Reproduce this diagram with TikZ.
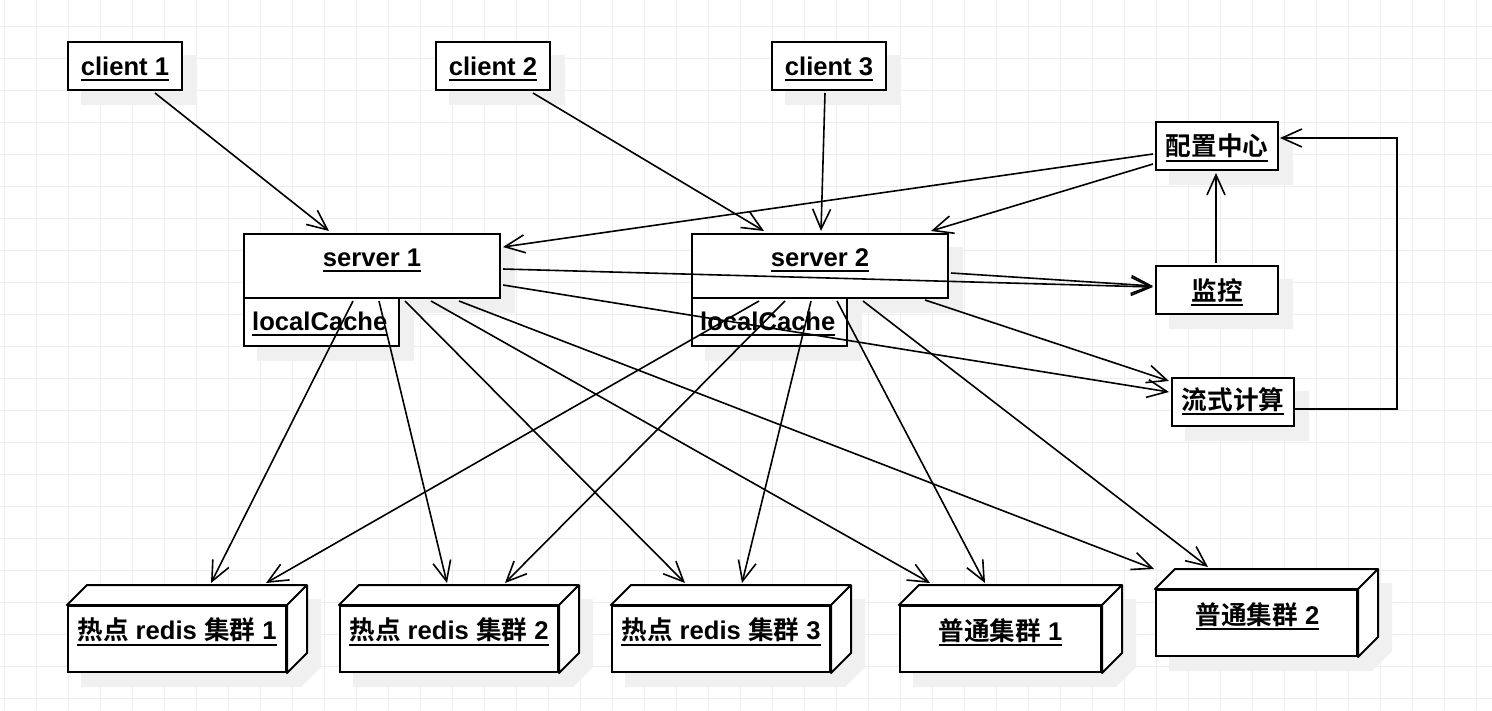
\documentclass[tikz,border=0pt]{standalone}
\usepackage{fontspec}
\setmainfont{Liberation Sans}
\newfontfamily\cjk{Noto Sans CJK SC}[BoldFont={* Bold}]
\usetikzlibrary{calc,arrows.meta}
\pgfdeclarelayer{bg}
\pgfsetlayers{bg,main}
\newcommand\ulx[1]{\setbox0\hbox{#1}\rlap{\rule[-6pt]{\wd0}{2pt}}\box0}
\newcommand\mkshadow[1]{\fill[shadowc] ($(#1.north west)+(14,14)$) rectangle ($(#1.south east)+(14,14)$);}
\newcommand\mkcubeshadow[1]{\fill[shadowc] ($(#1.south west)+(14,14)$) -- ($(#1.north west)+(14,14)$) -- ($(#1.north west)+(34,-6)$) -- ($(#1.north east)+(34,-6)$) -- ($(#1.south east)+(34,-6)$) -- ($(#1.south east)+(14,14)$) -- cycle;}
\newcommand\mkcubefaces[1]{\draw[faceline] (#1.north west) -- ($(#1.north west)+(20,-20)$) -- ($(#1.north east)+(20,-20)$) -- ($(#1.south east)+(20,-20)$) -- (#1.south east) -- (#1.north east) -- cycle (#1.north east) -- ($(#1.north east)+(20,-20)$);}
\begin{document}
\begin{tikzpicture}[x=1pt,y=-1pt,
  box/.style={draw=black, line width=2pt, fill=white, inner sep=0pt, rectangle},
  faceline/.style={draw=black, line width=2pt, fill=white, line join=round},
  lbl/.style={inner sep=0pt, font=\bfseries\fontsize{25.6pt}{30pt}\selectfont},
  conn/.style={draw=black, line width=1.6pt, -{Straight Barb[length=20pt,width=18pt]}},
  shadowc/.style={fill=black!6},
  gridc/.style={draw=black!7, line width=1pt}]
\useasboundingbox (0,0) rectangle (1492,710);
\begin{pgfonlayer}{bg}
  \fill[white] (0,0) rectangle (1492,710);
  \foreach \x in {4,36,...,1476} \draw[gridc] (\x,0) -- (\x,710);
  \foreach \y in {26,58,...,698} \draw[gridc] (0,\y) -- (1492,\y);
\end{pgfonlayer}

% clients
\node[box, minimum width=114pt, minimum height=48pt] (c1) at (125,66) {};
\node[box, minimum width=114pt, minimum height=48pt] (c2) at (493,66) {};
\node[box, minimum width=114pt, minimum height=48pt] (c3) at (829,66) {};
\node[lbl, anchor=base] (c1t) at ($(c1.center)+(0,9)$) {\ulx{client 1}};
\node[lbl, anchor=base] (c2t) at ($(c2.center)+(0,9)$) {\ulx{client 2}};
\node[lbl, anchor=base] (c3t) at ($(c3.center)+(0,9)$) {\ulx{client 3}};

% servers
\node[box, minimum width=256pt, minimum height=64pt] (s1) at (372,266) {};
\node[box, minimum width=155pt, minimum height=48pt] (s1c) at (321.5,322) {};
\node[lbl, anchor=base] (s1t) at ($(s1.north)+(0,33)$) {\ulx{server 1}};
\node[lbl, anchor=base west] (s1ct) at ($(s1c.west)+(9,8)$) {\ulx{localCache}};
\node[box, minimum width=256pt, minimum height=64pt] (s2) at (820,266) {};
\node[box, minimum width=155pt, minimum height=48pt] (s2c) at (769.5,322) {};
\node[lbl, anchor=base] (s2t) at ($(s2.north)+(0,33)$) {\ulx{server 2}};
\node[lbl, anchor=base west] (s2ct) at ($(s2c.west)+(9,8)$) {\ulx{localCache}};

% right side
\node[box, minimum width=122pt, minimum height=48pt] (pz) at (1217,146) {};
\node[box, minimum width=122pt, minimum height=48pt] (jk) at (1217,290) {};
\node[box, minimum width=122pt, minimum height=48pt] (ls) at (1233,402) {};
\node[lbl, anchor=base] (pzt) at ($(pz.center)+(0,9.5)$) {\ulx{\cjk 配置中心}};
\node[lbl, anchor=base] (jkt) at ($(jk.center)+(0,10)$) {\ulx{\cjk 监控}};
\node[lbl, anchor=base] (lst) at ($(ls.center)+(0,7)$) {\ulx{\cjk 流式计算}};

% clusters
\node[box, minimum width=218pt, minimum height=66pt] (h1) at (177,639) {};
\mkcubefaces{h1}
\node[box, minimum width=218pt, minimum height=66pt] (h2) at (449,639) {};
\mkcubefaces{h2}
\node[box, minimum width=218pt, minimum height=66pt] (h3) at (721,639) {};
\mkcubefaces{h3}
\node[box, minimum width=201pt, minimum height=66pt] (p1) at (1000.5,639) {};
\mkcubefaces{p1}
\node[box, minimum width=201pt, minimum height=66pt] (p2) at (1256.5,623) {};
\mkcubefaces{p2}
\node[lbl, anchor=base] (h1t) at ($(h1.center)+(0,0.5)$) {\ulx{{\cjk 热点} redis {\cjk 集群} 1}};
\node[lbl, anchor=base] (h2t) at ($(h2.center)+(0,0.5)$) {\ulx{{\cjk 热点} redis {\cjk 集群} 2}};
\node[lbl, anchor=base] (h3t) at ($(h3.center)+(0,0.5)$) {\ulx{{\cjk 热点} redis {\cjk 集群} 3}};
\node[lbl, anchor=base] (p1t) at ($(p1.center)+(0,1)$) {\ulx{{\cjk 普通集群} 1}};
\node[lbl, anchor=base] (p2t) at ($(p2.center)+(1,1)$) {\ulx{{\cjk 普通集群} 2}};

% shadows
\begin{pgfonlayer}{bg}
  \mkshadow{c1}\mkshadow{c2}\mkshadow{c3}
  \mkshadow{s1}\mkshadow{s1c}\mkshadow{s2}\mkshadow{s2c}
  \mkshadow{pz}\mkshadow{jk}\mkshadow{ls}
  \mkcubeshadow{h1}\mkcubeshadow{h2}\mkcubeshadow{h3}\mkcubeshadow{p1}\mkcubeshadow{p2}
\end{pgfonlayer}

% connectors
\draw[conn] ($(c1.south west)+(88,2)$) -- ($(s1.north west)+(86,-2)$);
\draw[conn] ($(c2.south west)+(98,2)$) -- ($(s2.north west)+(73,-2)$);
\draw[conn] ($(c3.south west)+(54,2)$) -- ($(s2.north west)+(130,-2)$);
\draw[conn] ($(pz.west)+(-2,8)$) -- ($(s1.north east)+(2,14)$);
\draw[conn] ($(pz.west)+(-2,18)$) -- ($(s2.north east)+(-18,-2)$);
\draw[conn] ($(jk.north)+(-1,-2)$) -- ($(pz.south)+(-1,2)$);
\draw[conn] ($(ls.east)+(0,7)$) -- ++(102,0) |- ($(pz.east)+(1,-8)$);
\draw[conn] ($(s1.north east)+(2,36)$) -- ($(jk.west)+(-2,-3)$);
\draw[conn] ($(s2.north east)+(2,40)$) -- ($(jk.west)+(-2,-4)$);
\draw[conn] ($(s1.north east)+(2,52)$) -- ($(ls.west)+(-2,-10)$);
\draw[conn] ($(s2.south east)+(-24,1)$) -- ($(ls.west)+(-2,-21)$);
\draw[conn] ($(s1.south west)+(110,2)$) -- ($(h1.north west)+(144,-22)$);
\draw[conn] ($(s1.south west)+(136,2)$) -- ($(h2.north west)+(108,-22)$);
\draw[conn] ($(s1.south west)+(162,2)$) -- ($(h3.north west)+(74,-22)$);
\draw[conn] ($(s1.south west)+(188,2)$) -- ($(p1.north west)+(31,-22)$);
\draw[conn] ($(s1.south west)+(216,2)$) -- ($(p2.north west)+(-1,-20)$);
\draw[conn] ($(s2.south west)+(68,2)$) -- ($(h1.north west)+(199,-22)$);
\draw[conn] ($(s2.south west)+(94,2)$) -- ($(h2.north west)+(166,-22)$);
\draw[conn] ($(s2.south west)+(120,2)$) -- ($(h3.north west)+(131,-22)$);
\draw[conn] ($(s2.south west)+(146,2)$) -- ($(p1.north west)+(86,-22)$);
\draw[conn] ($(s2.south west)+(172,2)$) -- ($(p2.north west)+(53,-22)$);
\end{tikzpicture}
\end{document}
